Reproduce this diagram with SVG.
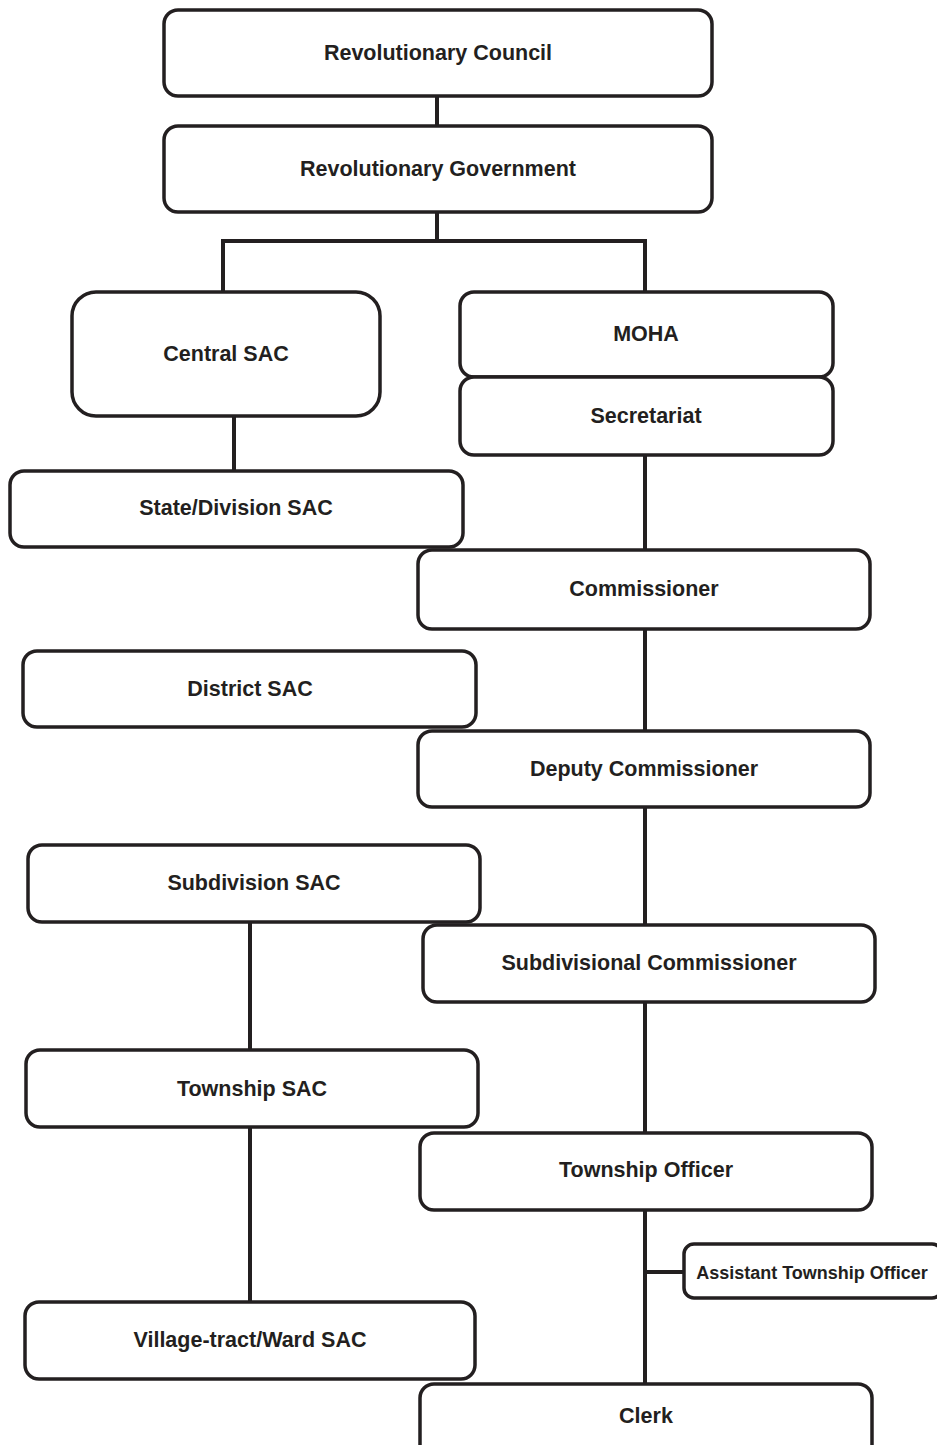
<svg xmlns="http://www.w3.org/2000/svg" width="937" height="1445" viewBox="0 0 937 1445">
<style>
.box{fill:#fff;stroke:#231f20;stroke-width:3.5}
.lbl{font-family:"Liberation Sans",Arial,sans-serif;font-weight:bold;font-size:21.5px;fill:#231f20;text-anchor:middle;dominant-baseline:central}
.sm{font-size:18px}
.con{fill:none;stroke:#231f20;stroke-width:4}
</style>
<rect width="937" height="1445" fill="#fff"/>
<g id="connectors">
<path class="con" d="M437 96V126"/>
<path class="con" d="M437 212V241M223 241H645M223 239V292M645 239V292"/>
<path class="con" d="M234 416V470"/>
<path class="con" d="M645 455V550"/>
<path class="con" d="M645 629V731"/>
<path class="con" d="M645 807V925"/>
<path class="con" d="M250 922V1050"/>
<path class="con" d="M645 1002V1133"/>
<path class="con" d="M250 1127V1302"/>
<path class="con" d="M645 1210V1384M645 1272H684"/>
</g>
<g id="n-rc"><rect class="box" x="164" y="10" width="548" height="86" rx="14"/><text class="lbl" x="438" y="53">Revolutionary Council</text></g>
<g id="n-rg"><rect class="box" x="164" y="126" width="548" height="86" rx="14"/><text class="lbl" x="438" y="169">Revolutionary Government</text></g>
<g id="n-csac"><rect class="box" x="72" y="292" width="308" height="124" rx="24"/><text class="lbl" x="226" y="354">Central SAC</text></g>
<g id="n-moha"><rect class="box" x="460" y="292" width="373" height="85" rx="14"/><text class="lbl" x="646" y="334">MOHA</text></g>
<g id="n-sec"><rect class="box" x="460" y="377" width="373" height="78" rx="14"/><text class="lbl" x="646" y="416">Secretariat</text></g>
<g id="n-sdsac"><rect class="box" x="10" y="471" width="453" height="76" rx="14"/><text class="lbl" x="236" y="508">State/Division SAC</text></g>
<g id="n-comm"><rect class="box" x="418" y="550" width="452" height="79" rx="14"/><text class="lbl" x="644" y="589">Commissioner</text></g>
<g id="n-dsac"><rect class="box" x="23" y="651" width="453" height="76" rx="14"/><text class="lbl" x="250" y="689">District SAC</text></g>
<g id="n-dc"><rect class="box" x="418" y="731" width="452" height="76" rx="14"/><text class="lbl" x="644" y="769">Deputy Commissioner</text></g>
<g id="n-ssac"><rect class="box" x="28" y="845" width="452" height="77" rx="14"/><text class="lbl" x="254" y="883">Subdivision SAC</text></g>
<g id="n-sc"><rect class="box" x="423" y="925" width="452" height="77" rx="14"/><text class="lbl" x="649" y="963">Subdivisional Commissioner</text></g>
<g id="n-tsac"><rect class="box" x="26" y="1050" width="452" height="77" rx="14"/><text class="lbl" x="252" y="1089">Township SAC</text></g>
<g id="n-to"><rect class="box" x="420" y="1133" width="452" height="77" rx="14"/><text class="lbl" x="646" y="1170">Township Officer</text></g>
<g id="n-ato"><rect class="box" x="684" y="1244" width="258" height="54" rx="10"/><text class="lbl sm" x="812" y="1273">Assistant Township Officer</text></g>
<g id="n-vsac"><rect class="box" x="25" y="1302" width="450" height="77" rx="14"/><text class="lbl" x="250" y="1340">Village-tract/Ward SAC</text></g>
<g id="n-clerk"><rect class="box" x="420" y="1384" width="452" height="76" rx="14"/><text class="lbl" x="646" y="1416">Clerk</text></g>
</svg>
